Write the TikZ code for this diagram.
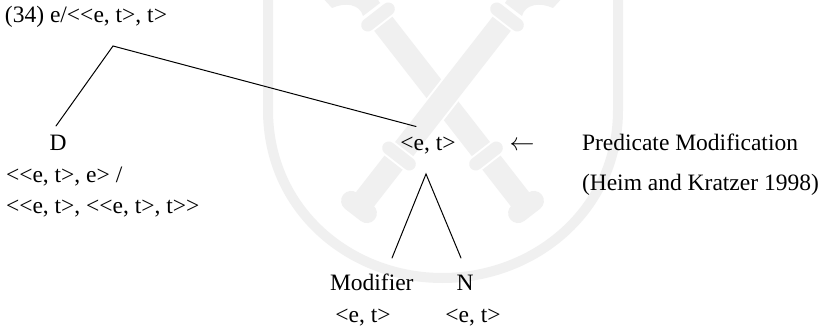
\documentclass[tikz,border=0pt]{standalone}
\usepackage{fontspec}
\setmainfont{Liberation Serif}
\definecolor{wmgray}{HTML}{F0F0F0}
\tikzset{
  lbl/.style={inner sep=0pt,outer sep=0pt,anchor=base west,font=\fontsize{23.5}{27}\selectfont},
  lblc/.style={lbl,anchor=base},
  edge/.style={draw=black,line width=1pt,line cap=round},
  wmline/.style={draw=wmgray,line cap=butt},
  shaft/.style={wmline,line width=23pt},
  guard/.style={wmline,line width=13pt,line cap=round},
  endcap/.style={wmline,line width=20pt,line cap=round},
  halo/.style={draw=white,line cap=butt}
}
\newcommand{\clubshape}{%
  \fill[wmgray] (510,-5) -- (565,-5) -- (553,8) .. controls (540,2) and (525,4) .. (522,16) -- (505,3) -- cycle;
  \draw[halo,line width=27pt] (507,17) -- (359,207);
  \draw[shaft] (507,17) -- (359,207);
  \draw[draw=white,line width=17pt,line cap=round] (496.7,9) -- (517.3,25);
  \draw[draw=white,line width=17pt,line cap=round] (388.7,148) -- (409.3,164);
  \draw[guard] (496.7,9) -- (517.3,25);
  \draw[guard] (388.7,148) -- (409.3,164);
  \draw[endcap] (351.1,200.9) -- (366.9,213.1);
}
\begin{document}
\begin{tikzpicture}[x=1pt,y=-1pt]
\useasboundingbox (0,0) rectangle (824,326);
\fill[white] (0,0) rectangle (824,326);
\begin{scope}
  \clip (0,0) rectangle (824,326);
  \draw[wmgray,line width=10pt] (268,-5) -- (268,110)
    .. controls (268,210) and (350,278) .. (442.5,278)
    .. controls (535,278) and (618,210) .. (618,110) -- (618,-5);
  \begin{scope}[xshift=885pt,xscale=-1]
    \clubshape
  \end{scope}
  \clubshape
\end{scope}
\node[lbl] (title) at (5,23) {(34) e/<{}<e, t>, t>};
\coordinate (root) at (113,46);
\coordinate (dtop) at (56,126);
\coordinate (ettop) at (416,126.5);
\coordinate (apex) at (426,174);
\coordinate (modtop) at (392,258);
\coordinate (ntop) at (461,258);
\node[lblc] (D) at (58,150) {D};
\node[lbl] (dt1) at (6,182) {<{}<e, t>, e> /};
\node[lbl] (dt2) at (6,213) {<{}<e, t>, <{}<e, t>, t>{}>};
\node[lblc] (et) at (428,150) {<e, t>};
\node[lblc] (arr) at (522,150) {$\leftarrow$};
\node[lbl] (pm) at (582,150) {Predicate Modification};
\node[lbl] (hk) at (582,190) {(Heim and Kratzer 1998)};
\node[lbl] (mod) at (330,290) {Modifier};
\node[lblc] (N) at (465,290) {N};
\node[lblc] (mt) at (363,322) {<e, t>};
\node[lblc] (nt) at (473,322) {<e, t>};
\draw[edge] (dtop) -- (root) -- (ettop);
\draw[edge] (modtop) -- (apex) -- (ntop);
\end{tikzpicture}
\end{document}
